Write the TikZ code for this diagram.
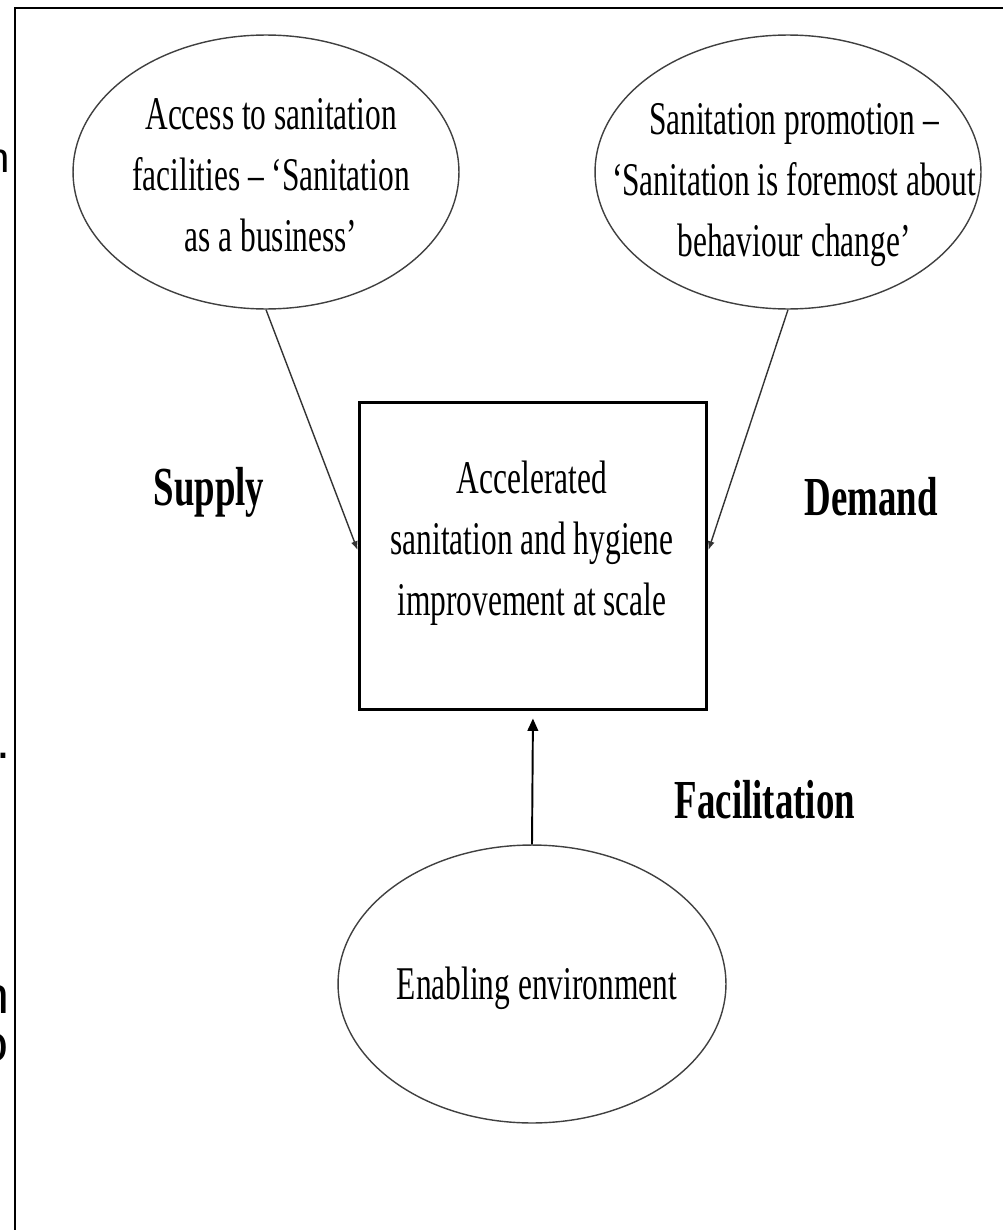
\documentclass[tikz,border=0pt]{standalone}
\usepackage{fontspec}
\setmainfont[FakeStretch=0.67]{Liberation Serif}
\newfontfamily\sidefont{Liberation Sans}
\usetikzlibrary{shapes.geometric,arrows.meta}

\begin{document}
\begin{tikzpicture}[x=0.02cm,y=-0.02cm,
        oval/.style={draw=black!75,line width=0.8pt,ellipse,minimum width=7.72cm,minimum height=5.48cm,inner sep=0pt},
        txt/.style={align=center,inner sep=0pt,font=\fontsize{26.7}{34.7}\selectfont},
        lbl/.style={inner sep=0pt,anchor=base,font=\fontsize{31.3}{36}\selectfont\bfseries},
        frag/.style={inner sep=0pt,anchor=base east},
        side/.style={draw=black!80,line width=0.8pt,-{Latex[length=5pt,width=4pt]}}]
        \useasboundingbox (0,0) rectangle (1003,1230);

        % frame and cut-off text at the left
        \draw[line width=1.7pt] (1003,8) -- (15,8) -- (15,1230);
        \node[frag,font=\sidefont\fontsize{23.9}{28}\selectfont] (f1) at (10,173) {n};
        \node[frag,font=\sidefont\fontsize{28.4}{33}\selectfont] (f2) at (11,758) {.};
        \node[frag,font=\sidefont\fontsize{29.6}{34}\selectfont] (f3) at (10,1013) {n};
        \node[frag,font=\sidefont\fontsize{29.6}{34}\selectfont] (f4) at (9,1061) {o};

        \node[oval] (acc) at (266,172) {};
        \node[txt] (acctxt) at (271,175) {Access to sanitation\\facilities -- `Sanitation\\as a business'};

        \node[oval] (prom) at (788,172) {};
        \node[txt] (promtxt) at (794,185) {Sanitation promotion --\\`Sanitation is foremost about\\behaviour change'};

        \node[draw,line width=1.7pt,minimum width=6.96cm,minimum height=6.16cm,inner sep=0pt] (core) at (533,556) {};
        \node[txt] (coretxt) at (532,543) {Accelerated\\sanitation and hygiene\\improvement at scale};

        \node[oval,minimum width=7.76cm,minimum height=5.56cm] (enab) at (532,984) {};
        \node[txt] (enabtxt) at (537,988) {Enabling environment};

        \node[lbl] (lsup) at (209,505) {Supply};
        \node[lbl] (ldem) at (871,515) {Demand};
        \node[lbl] (lfac) at (765,818) {Facilitation};

        \draw[side] (acc.south) -- ([yshift=0.12cm]core.west);
        \draw[side] (prom.south) -- ([yshift=0.12cm]core.east);
        \draw[line width=1.1pt,-{Triangle[length=7pt,width=6pt]},shorten >=4pt] (enab.north) -- (core.south);
    \end{tikzpicture}
\end{document}
